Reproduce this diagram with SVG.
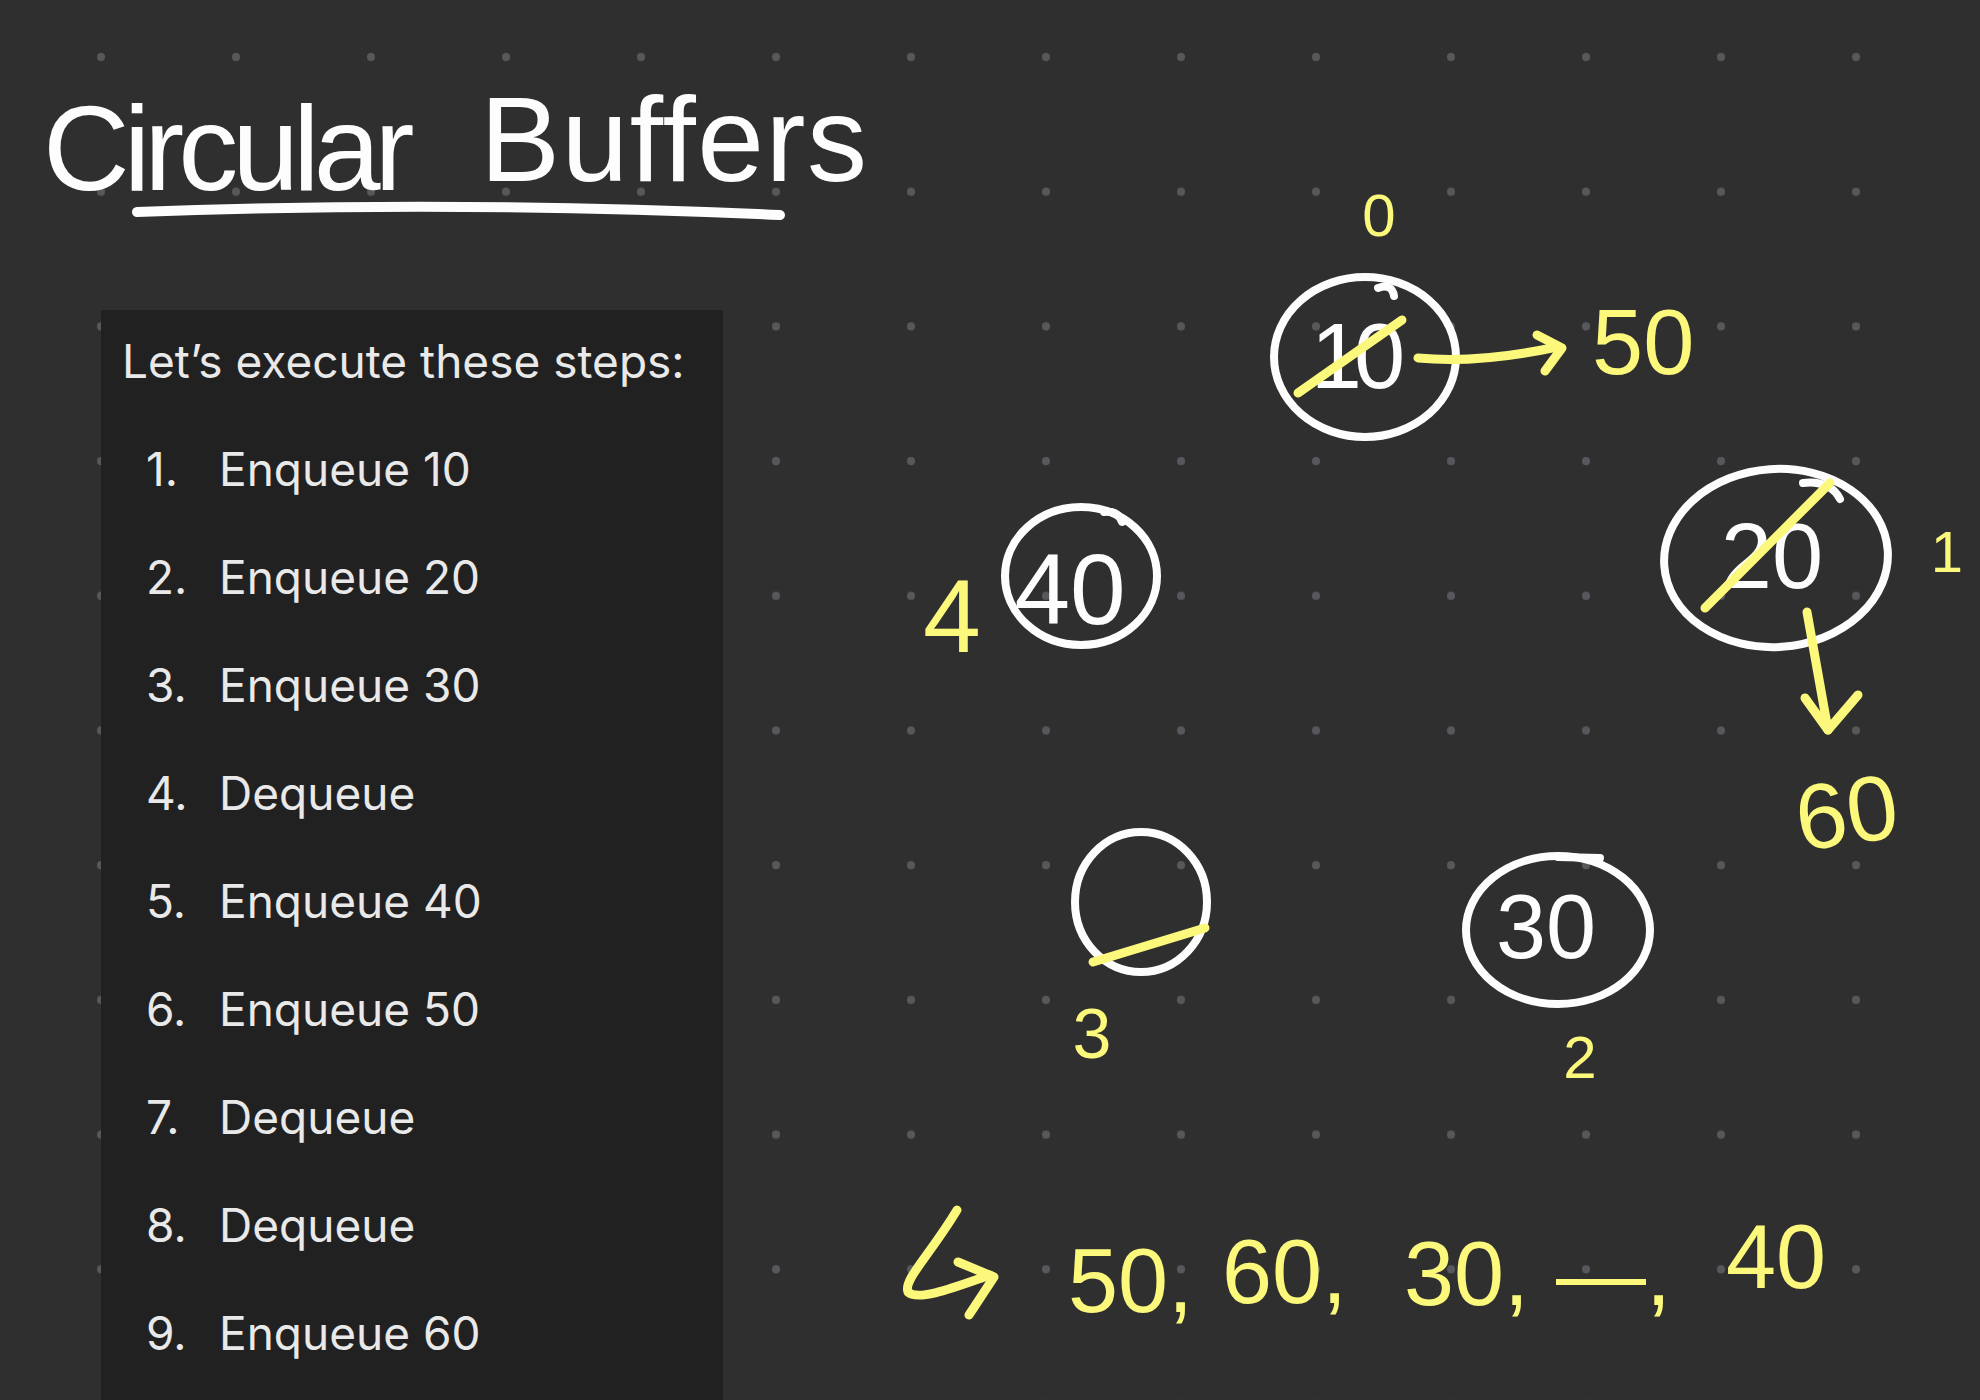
<svg xmlns="http://www.w3.org/2000/svg" width="1980" height="1400" viewBox="0 0 1980 1400">
<style>
.hw-w{fill:#fdfdfd;font-family:"Liberation Sans",Arial,sans-serif}
.hw-y{fill:#fbf87c;font-family:"Liberation Sans",Arial,sans-serif}
.ring{fill:none;stroke:#fdfdfd;stroke-width:8;stroke-linecap:round;stroke-linejoin:round}
.ystroke{fill:none;stroke:#fbf87c;stroke-width:9;stroke-linecap:round;stroke-linejoin:round}
.wstroke{fill:none;stroke:#fdfdfd;stroke-width:10;stroke-linecap:round}
.panel-text{fill:#e9e9e9;font-family:Inter,"Liberation Sans",Arial,sans-serif;font-size:46px}
</style>
<defs>
<pattern id="dots" x="0" y="0" width="135" height="134.7" patternUnits="userSpaceOnUse">
<circle cx="101" cy="57" r="4" fill="#57585c"/>
</pattern>
</defs>
<rect x="0" y="0" width="1980" height="1400" fill="#2f2f2f"/>
<rect x="0" y="0" width="1980" height="1400" fill="url(#dots)"/>

<g id="title">
<text class="hw-w" font-size="120" y="190"><tspan x="43" letter-spacing="-6">Circular</tspan><tspan x="480" y="181" letter-spacing="1.5">Buffers</tspan></text>
<path class="wstroke" d="M137,212 Q450,200 780,215"/>
</g>

<g id="steps-panel">
<rect x="101" y="310" width="622" height="1090" fill="#212121"/>
<text class="panel-text" x="122" y="378">Let’s execute these steps:</text>
<g class="panel-text">
<text x="146" y="486">1.</text><text x="219" y="486">Enqueue 10</text>
<text x="146" y="594">2.</text><text x="219" y="594">Enqueue 20</text>
<text x="146" y="702">3.</text><text x="219" y="702">Enqueue 30</text>
<text x="146" y="810">4.</text><text x="219" y="810">Dequeue</text>
<text x="146" y="918">5.</text><text x="219" y="918">Enqueue 40</text>
<text x="146" y="1026">6.</text><text x="219" y="1026">Enqueue 50</text>
<text x="146" y="1134">7.</text><text x="219" y="1134">Dequeue</text>
<text x="146" y="1242">8.</text><text x="219" y="1242">Dequeue</text>
<text x="146" y="1350">9.</text><text x="219" y="1350">Enqueue 60</text>
</g>
</g>

<g id="slot-0">
<ellipse class="ring" cx="1365" cy="357" rx="91" ry="80"/>
<path class="ring" d="M1378,288 Q1392,283 1394,296"/>
<text class="hw-w" font-size="92" x="1354" y="388" text-anchor="middle" letter-spacing="-8">10</text>
<path class="ystroke" d="M1298,393 L1402,320"/>
<text class="hw-y" font-size="60" x="1379" y="236" text-anchor="middle">0</text>
</g>

<g id="value-50">
<text class="hw-y" font-size="92" x="1592" y="374">50</text>
</g>

<g id="slot-1">
<ellipse class="ring" cx="1776" cy="558" rx="112" ry="89" transform="rotate(-4 1776 558)"/>
<path class="ring" d="M1803,483 Q1830,480 1840,499"/>
<text class="hw-w" font-size="92" x="1772" y="588" text-anchor="middle">20</text>
<path class="ystroke" d="M1705,608 L1830,483"/>
<text class="hw-y" font-size="58" x="1947" y="572" text-anchor="middle">1</text>
</g>

<g id="value-60">
<text class="hw-y" font-size="92" x="1795" y="844" transform="rotate(-8 1847 810)">60</text>
</g>

<g id="slot-2">
<ellipse class="ring" cx="1558" cy="930" rx="92" ry="74"/>
<path class="ring" d="M1558,857 L1600,858"/>
<text class="hw-w" font-size="90" x="1546" y="958" text-anchor="middle">30</text>
<text class="hw-y" font-size="60" x="1580" y="1078" text-anchor="middle">2</text>
</g>

<g id="slot-3">
<ellipse class="ring" cx="1141" cy="902" rx="66" ry="70"/>
<path class="ystroke" d="M1093,962 L1205,928"/>
<text class="hw-y" font-size="70" x="1092" y="1058" text-anchor="middle">3</text>
</g>

<g id="slot-4">
<ellipse class="ring" cx="1081" cy="576" rx="76" ry="69"/>
<path class="ring" d="M1104,512 Q1118,510 1122,522"/>
<text class="hw-w" font-size="100" x="1070" y="624" text-anchor="middle">40</text>
<text class="hw-y" font-size="104" x="952" y="652" text-anchor="middle">4</text>
</g>

<g id="result">
<text class="hw-y" font-size="90"><tspan x="1068" y="1312">50,</tspan><tspan x="1222" y="1303">60,</tspan><tspan x="1404" y="1305">30,</tspan><tspan x="1556" y="1305">—,</tspan><tspan x="1726" y="1288">40</tspan></text>
</g>

<g id="connectors">
<path class="ystroke" d="M1418,358 C1460,362 1510,357 1557,347"/>
<path class="ystroke" d="M1537,335 L1562,348 L1545,371"/>
<path class="ystroke" d="M1807,612 L1828,730"/>
<path class="ystroke" d="M1805,698 L1828,730 L1858,695"/>
<path class="ystroke" d="M957,1210 C930,1255 903,1280 908,1292 C918,1302 958,1286 990,1275"/>
<path class="ystroke" d="M958,1262 L994,1277 L969,1315"/>
</g>
</svg>
